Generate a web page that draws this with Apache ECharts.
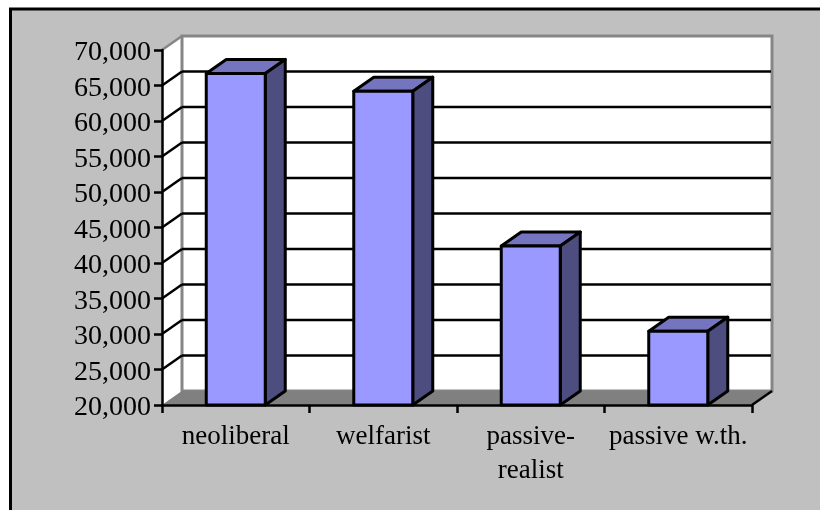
<!DOCTYPE html>
<html>
<head>
<meta charset="utf-8">
<style>
  html, body { margin: 0; padding: 0; background: #fff; }
  #chart { width: 820px; height: 510px; }
</style>
<script src="https://cdn.jsdelivr.net/npm/echarts@6/dist/echarts.min.js"></script>
</head>
<body>
<div id="chart"></div>
<script>
const categories = ['neoliberal', 'welfarist', 'passive-\nrealist', 'passive w.th.'];
const values = [66700, 64200, 42400, 30400];
const gridValues = [25000, 30000, 35000, 40000, 45000, 50000, 55000, 60000, 65000];
const yMin = 20000;
const yMax = 70000;
const yStep = 5000;

// fake 3D offset of the Excel-style walls and bars
const depthX = 20;
const depthY = -14;

const chart = echarts.init(document.getElementById('chart'), null, { renderer: 'canvas' });

const off = (p) => [p[0] + depthX, p[1] + depthY];

// back grid lines, with the short diagonal on the side wall
const renderGridLine = (params, api) => {
  const left = api.coord([0, api.value(0)]);
  const band = api.size([1, 0])[0];
  const x0 = left[0] - band / 2;
  const x1 = x0 + band * categories.length;
  const y = left[1];
  const line = { stroke: '#000', lineWidth: 2.5 };
  return {
    type: 'group',
    children: [
      { type: 'line', shape: { x1: x0, y1: y, x2: x0 + depthX, y2: y + depthY }, style: line },
      { type: 'line', shape: { x1: x0 + depthX, y1: y + depthY, x2: x1 + depthX - 1, y2: y + depthY }, style: line },
    ],
  };
};

// side wall, back wall and floor
const renderFrame = (params, api) => {
  const bottom = api.coord([0, yMin]);
  const top = api.coord([0, yMax]);
  const band = api.size([1, 0])[0];
  const x0 = bottom[0] - band / 2;
  const x1 = x0 + band * categories.length;
  const yb = bottom[1];
  const yt = top[1];
  const gray = '#868686';
  return {
    type: 'group',
    children: [
      { type: 'polygon', shape: { points: [[x0, yb], [x0 + depthX, yb + depthY], [x0 + depthX, yt + depthY], [x0, yt]] }, style: { fill: '#fff' } },
      { type: 'rect', shape: { x: x0 + depthX, y: yt + depthY, width: x1 - x0, height: yb - yt }, style: { fill: '#fff', stroke: gray, lineWidth: 3 } },
      { type: 'line', shape: { x1: x0, y1: yt, x2: x0 + depthX, y2: yt + depthY }, style: { stroke: gray, lineWidth: 2.5 } },
      { type: 'polygon', shape: { points: [[x0, yb], [x0 + depthX, yb + depthY], [x1 + depthX, yb + depthY], [x1, yb]] }, style: { fill: '#808080' } },
      { type: 'line', shape: { x1: x1, y1: yb, x2: x1 + depthX, y2: yb + depthY }, style: { stroke: '#000', lineWidth: 2.5 } },
    ],
  };
};

const renderBar = (params, api) => {
  const idx = api.value(0);
  const top = api.coord([idx, api.value(1)]);
  const bottom = api.coord([idx, yMin]);
  const w = api.size([1, 0])[0] / 2.5;
  const a = [top[0] - w / 2, top[1]];
  const b = [top[0] + w / 2, top[1]];
  const c = [top[0] + w / 2, bottom[1]];
  const d = [top[0] - w / 2, bottom[1]];
  const line = { stroke: '#000', lineWidth: 3, lineJoin: 'round' };
  return {
    type: 'group',
    children: [
      { type: 'polygon', shape: { points: [a, b, off(b), off(a)] }, style: { fill: '#7575BF', ...line } },
      { type: 'polygon', shape: { points: [b, off(b), off(c), c] }, style: { fill: '#4D4D80', ...line } },
      { type: 'polygon', shape: { points: [a, b, c, d] }, style: { fill: '#9999FF', ...line } },
    ],
  };
};

const option = {
  animation: false,
  textStyle: { fontFamily: 'Liberation Serif' },
  graphic: [
    {
      type: 'rect',
      z: -10,
      silent: true,
      shape: { x: 10.5, y: 9, width: 840, height: 530 },
      style: { fill: '#C0C0C0', stroke: '#000', lineWidth: 3 },
    },
  ],
  grid: { left: 162, top: 50, width: 590, height: 355, containLabel: false },
  xAxis: {
    type: 'category',
    data: categories,
    z: 5,
    axisLine: { lineStyle: { color: '#000', width: 2.5 } },
    axisTick: { show: true, alignWithLabel: false, length: 8, lineStyle: { color: '#000', width: 2.5 } },
    axisLabel: { color: '#000', fontSize: 27, fontFamily: 'Liberation Serif', margin: 15, lineHeight: 34, interval: 0 },
    splitLine: { show: false },
  },
  yAxis: {
    type: 'value',
    min: yMin,
    max: yMax,
    interval: yStep,
    z: 5,
    axisLine: { show: true, lineStyle: { color: '#000', width: 2.5 } },
    axisTick: { show: true, length: 8, lineStyle: { color: '#000', width: 2.5 } },
    axisLabel: {
      color: '#000',
      fontSize: 28,
      fontFamily: 'Liberation Serif',
      margin: 11,
      verticalAlign: 'top',
      padding: [-11, 0, 0, 0],
      formatter: (v) => v.toLocaleString('en-US'),
    },
    splitLine: { show: false },
  },
  series: [
    { type: 'custom', z: 1, silent: true, clip: false, renderItem: renderFrame, data: [[yMin]], encode: { y: 0 } },
    { type: 'custom', z: 2, silent: true, clip: false, renderItem: renderGridLine, data: gridValues.map((v) => [v]), encode: { y: 0 } },
    { type: 'custom', z: 3, silent: true, clip: false, renderItem: renderBar, data: values.map((v, i) => [i, v]), encode: { x: 0, y: 1 } },
  ],
};

chart.setOption(option);
</script>
</body>
</html>
